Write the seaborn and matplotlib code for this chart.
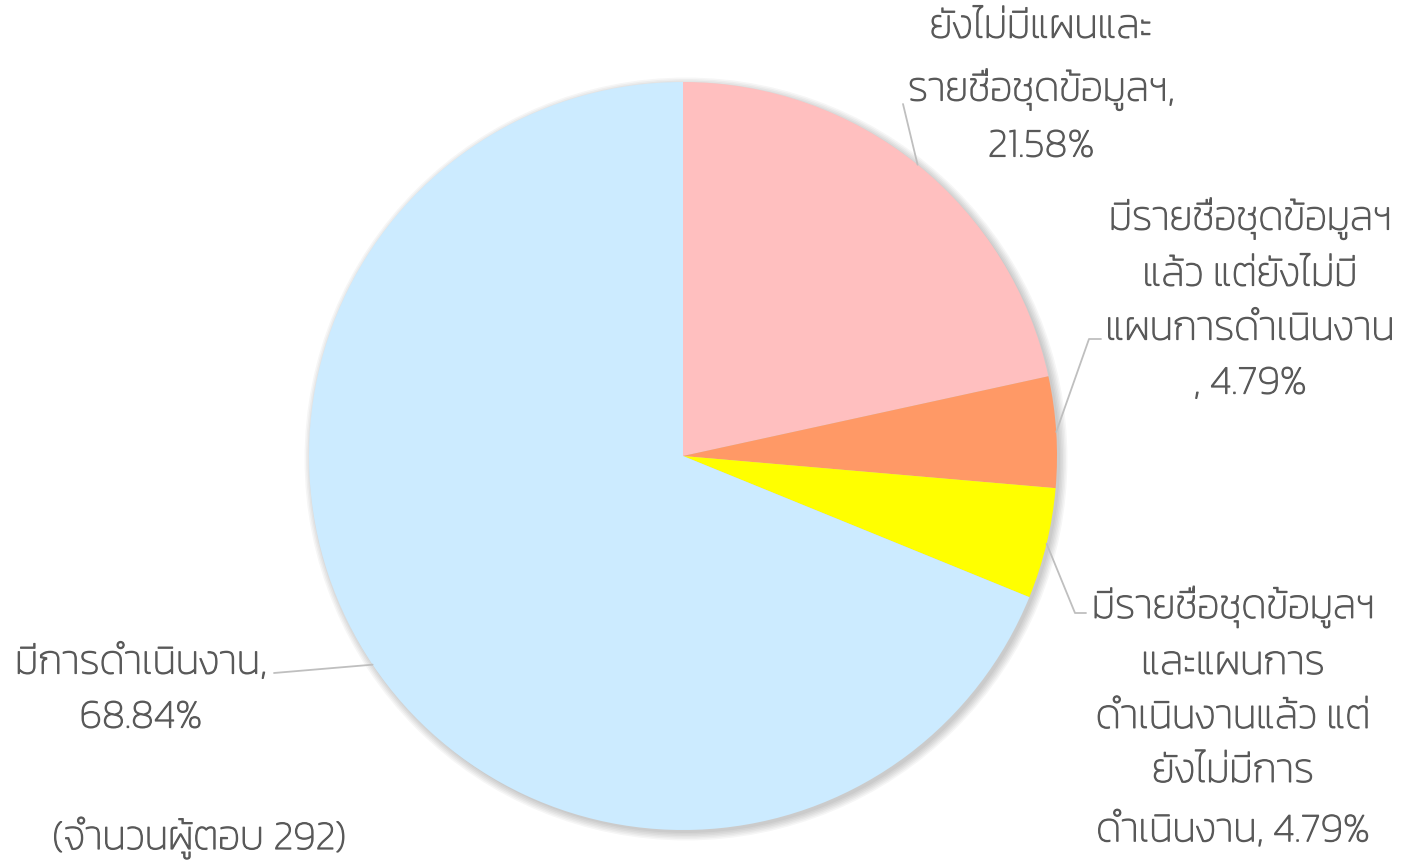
import numpy as np
import matplotlib
matplotlib.use("Agg")
import matplotlib.pyplot as plt
import matplotlib.patheffects as pe
from matplotlib.patches import Circle
import seaborn as sns

# data
labels = [
    "ยังไม่มีแผนและ\nรายชื่อชุดข้อมูลฯ,\n21.58%",
    "มีรายชื่อชุดข้อมูลฯ\nแล้ว แต่ยังไม่มี\nแผนการดำเนินงาน\n, 4.79%",
    "มีรายชื่อชุดข้อมูลฯ\nและแผนการ\nดำเนินงานแล้ว แต่\nยังไม่มีการ\nดำเนินงาน, 4.79%",
    "มีการดำเนินงาน,\n68.84%",
]
values = [21.58, 4.79, 4.79, 68.84]
colors = ["#FFBFBF", "#FF9966", "#FFFF00", "#CCEBFF"]
note = "(จำนวนผู้ตอบ 292)"

# label layout in pixels (center of text block) and leader elbows
label_pos = [(1041, 88), (1250, 300), (1233, 718), (141, 690)]
elbows = [[(903, 104)], [(1089, 339), (1101, 339)], [(1075, 613), (1086, 613)], [(274, 673)]]

W, H = 1412, 860
cx, cy, R = 683, 456, 374

sns.set_theme(style="white")
plt.rcParams["font.family"] = ["Kanit", "DejaVu Sans"]
text_color = "#595959"
bolder = [pe.withStroke(linewidth=0.9, foreground=text_color)]

fig = plt.figure(figsize=(W / 100, H / 100), dpi=100)
ax = fig.add_axes([0, 0, 1, 1])


def px(x, y):
    return (x - cx) / R, (cy - y) / R


# soft shadow
for i in range(6):
    ax.add_patch(Circle((0.008, -0.008), 1.0 + 0.004 * i, color="black",
                        alpha=0.035, lw=0, zorder=0))

wedges, _ = ax.pie(values, colors=colors, startangle=90, counterclock=False,
                   radius=1.0, wedgeprops=dict(linewidth=0))
for w in wedges:
    w.set_zorder(2)

ax.set_xlim(-cx / R, (W - cx) / R)
ax.set_ylim(-(H - cy) / R, cy / R)
ax.set_aspect("equal")
ax.axis("off")

for w, lab, pos, elb in zip(wedges, labels, label_pos, elbows):
    mid = np.deg2rad((w.theta1 + w.theta2) / 2)
    pts = [(np.cos(mid), np.sin(mid))] + [px(*p) for p in elb]
    xs, ys = zip(*pts)
    ax.plot(xs, ys, color="#BFBFBF", lw=1.3, zorder=3)
    tx, ty = px(*pos)
    ax.text(tx, ty, lab, ha="center", va="center", fontsize=29,
            color=text_color, fontweight="light", linespacing=1.77,
            path_effects=bolder)

tx, ty = px(199, 838)
ax.text(tx, ty, note, ha="center", va="center", fontsize=29,
        color=text_color, fontweight="light", path_effects=bolder)

fig.savefig("out.png", dpi=100)
